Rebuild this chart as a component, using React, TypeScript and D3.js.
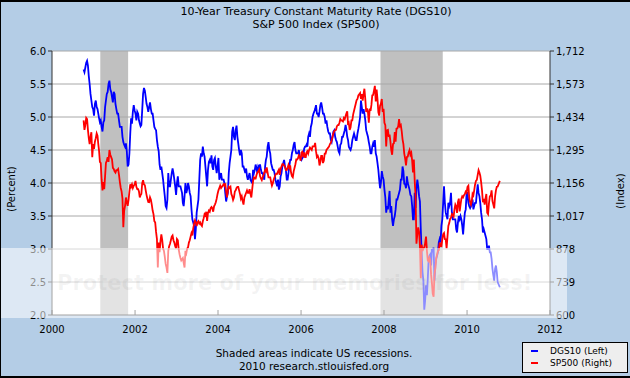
import React from "react";
import * as d3 from "d3";

const W = 630;
const H = 378;

const titleLines = ["10-Year Treasury Constant Maturity Rate (DGS10)", "S&P 500 Index (SP500)"];
const footerLines = ["Shaded areas indicate US recessions.", "2010 research.stlouisfed.org"];
const watermarkText = "Protect more of your memories for less!";
const leftTicks = [2.0, 2.5, 3.0, 3.5, 4.0, 4.5, 5.0, 5.5, 6.0];
const rightTicks = [600, 739, 878, 1017, 1156, 1295, 1434, 1573, 1712];
const rightTickLabels = ["600", "739", "878", "1,017", "1,156", "1,295", "1,434", "1,573", "1,712"];
const yearTicks = [2000, 2002, 2004, 2006, 2008, 2010, 2012];
const recessions: [string, string][] = [
  ["2001-03-01", "2001-11-01"],
  ["2007-12-01", "2009-06-01"],
];
const legendItems = [
  { label: "DGS10 (Left)", color: "#0000ff" },
  { label: "SP500 (Right)", color: "#ff0000" },
];

const dgs10Monthly: [string, number[]][] = [
  ["2000-10", [5.72, 5.68, 5.75, 5.82]],
  ["2000-11", [5.85, 5.78, 5.62, 5.50]],
  ["2000-12", [5.35, 5.25, 5.15, 5.12]],
  ["2001-01", [5.02, 5.20, 5.25, 5.15]],
  ["2001-02", [5.12, 5.05, 4.98, 4.92]],
  ["2001-03", [4.95, 4.85, 4.78, 4.92]],
  ["2001-04", [4.95, 5.15, 5.25, 5.35]],
  ["2001-05", [5.38, 5.50, 5.55, 5.42]],
  ["2001-06", [5.38, 5.30, 5.22, 5.38]],
  ["2001-07", [5.35, 5.20, 5.12, 5.05]],
  ["2001-08", [5.05, 4.95, 4.85, 4.85]],
  ["2001-09", [4.85, 4.70, 4.62, 4.58]],
  ["2001-10", [4.55, 4.60, 4.48, 4.25]],
  ["2001-11", [4.28, 4.45, 4.75, 4.98]],
  ["2001-12", [4.90, 5.08, 5.18, 5.10]],
  ["2002-01", [5.05, 4.95, 5.08, 5.05]],
  ["2002-02", [4.95, 4.90, 4.86, 4.88]],
  ["2002-03", [5.10, 5.35, 5.44, 5.40]],
  ["2002-04", [5.30, 5.20, 5.15, 5.08]],
  ["2002-05", [5.15, 5.22, 5.12, 5.05]],
  ["2002-06", [5.05, 4.95, 4.85, 4.82]],
  ["2002-07", [4.80, 4.65, 4.55, 4.48]],
  ["2002-08", [4.28, 4.20, 4.25, 4.15]],
  ["2002-09", [4.05, 3.92, 3.80, 3.65]],
  ["2002-10", [3.62, 3.75, 4.15, 3.95]],
  ["2002-11", [3.95, 4.05, 4.15, 4.22]],
  ["2002-12", [4.15, 4.05, 3.95, 3.82]],
  ["2003-01", [4.00, 4.10, 3.95, 3.95]],
  ["2003-02", [3.95, 3.90, 3.85, 3.70]],
  ["2003-03", [3.65, 3.80, 4.00, 3.85]],
  ["2003-04", [3.90, 4.00, 3.95, 3.85]],
  ["2003-05", [3.80, 3.60, 3.45, 3.40]],
  ["2003-06", [3.35, 3.15, 3.30, 3.55]],
  ["2003-07", [3.65, 3.75, 4.05, 4.35]],
  ["2003-08", [4.45, 4.40, 4.55, 4.45]],
  ["2003-09", [4.40, 4.25, 4.10, 3.95]],
  ["2003-10", [4.20, 4.32, 4.35, 4.30]],
  ["2003-11", [4.42, 4.25, 4.20, 4.35]],
  ["2003-12", [4.38, 4.25, 4.15, 4.25]],
  ["2004-01", [4.38, 4.05, 4.10, 4.15]],
  ["2004-02", [4.05, 4.05, 4.05, 4.00]],
  ["2004-03", [3.85, 3.72, 3.80, 3.85]],
  ["2004-04", [4.15, 4.30, 4.40, 4.50]],
  ["2004-05", [4.78, 4.85, 4.70, 4.65]],
  ["2004-06", [4.80, 4.87, 4.70, 4.60]],
  ["2004-07", [4.50, 4.42, 4.50, 4.45]],
  ["2004-08", [4.25, 4.25, 4.20, 4.15]],
  ["2004-09", [4.22, 4.10, 4.05, 4.10]],
  ["2004-10", [4.15, 4.05, 4.02, 4.00]],
  ["2004-11", [4.20, 4.15, 4.20, 4.28]],
  ["2004-12", [4.22, 4.15, 4.25, 4.22]],
  ["2005-01", [4.28, 4.20, 4.15, 4.15]],
  ["2005-02", [4.10, 4.05, 4.25, 4.35]],
  ["2005-03", [4.40, 4.55, 4.62, 4.50]],
  ["2005-04", [4.45, 4.30, 4.25, 4.20]],
  ["2005-05", [4.20, 4.15, 4.05, 4.00]],
  ["2005-06", [3.95, 4.05, 3.90, 3.95]],
  ["2005-07", [4.10, 4.15, 4.25, 4.30]],
  ["2005-08", [4.35, 4.25, 4.20, 4.05]],
  ["2005-09", [4.05, 4.15, 4.25, 4.35]],
  ["2005-10", [4.35, 4.45, 4.50, 4.58]],
  ["2005-11", [4.62, 4.50, 4.45, 4.45]],
  ["2005-12", [4.45, 4.50, 4.40, 4.38]],
  ["2006-01", [4.35, 4.38, 4.40, 4.52]],
  ["2006-02", [4.55, 4.55, 4.58, 4.55]],
  ["2006-03", [4.70, 4.75, 4.70, 4.85]],
  ["2006-04", [4.90, 5.00, 5.05, 5.08]],
  ["2006-05", [5.12, 5.18, 5.05, 5.05]],
  ["2006-06", [5.00, 5.08, 5.18, 5.22]],
  ["2006-07", [5.15, 5.05, 5.05, 5.00]],
  ["2006-08", [4.90, 4.95, 4.85, 4.78]],
  ["2006-09", [4.75, 4.75, 4.65, 4.62]],
  ["2006-10", [4.70, 4.78, 4.80, 4.70]],
  ["2006-11", [4.65, 4.62, 4.55, 4.48]],
  ["2006-12", [4.45, 4.58, 4.60, 4.70]],
  ["2007-01", [4.70, 4.75, 4.80, 4.88]],
  ["2007-02", [4.80, 4.70, 4.65, 4.55]],
  ["2007-03", [4.52, 4.50, 4.55, 4.65]],
  ["2007-04", [4.70, 4.75, 4.70, 4.65]],
  ["2007-05", [4.65, 4.75, 4.82, 4.90]],
  ["2007-06", [5.00, 5.25, 5.15, 5.05]],
  ["2007-07", [5.12, 5.05, 4.95, 4.80]],
  ["2007-08", [4.75, 4.70, 4.62, 4.55]],
  ["2007-09", [4.45, 4.45, 4.55, 4.60]],
  ["2007-10", [4.55, 4.65, 4.45, 4.40]],
  ["2007-11", [4.30, 4.20, 4.05, 3.92]],
  ["2007-12", [4.00, 4.18, 4.10, 4.05]],
  ["2008-01", [3.90, 3.78, 3.55, 3.65]],
  ["2008-02", [3.60, 3.75, 3.88, 3.55]],
  ["2008-03", [3.65, 3.45, 3.35, 3.45]],
  ["2008-04", [3.50, 3.60, 3.75, 3.75]],
  ["2008-05", [3.80, 3.85, 3.90, 4.05]],
  ["2008-06", [4.05, 4.25, 4.18, 3.99]],
  ["2008-07", [3.98, 3.92, 4.10, 4.00]],
  ["2008-08", [3.95, 3.90, 3.82, 3.80]],
  ["2008-09", [3.65, 3.45, 3.45, 3.85]],
  ["2008-10", [3.62, 3.92, 4.05, 3.95]],
  ["2008-11", [3.80, 3.72, 3.30, 2.95]],
  ["2008-12", [2.65, 2.52, 2.08, 2.22]],
  ["2009-01", [2.45, 2.30, 2.55, 2.85]],
  ["2009-02", [2.90, 2.92, 2.75, 3.00]],
  ["2009-03", [2.95, 3.02, 2.52, 2.75]],
  ["2009-04", [2.85, 2.90, 2.95, 3.10]],
  ["2009-05", [3.15, 3.10, 3.35, 3.45]],
  ["2009-06", [3.70, 3.95, 3.70, 3.55]],
  ["2009-07", [3.50, 3.45, 3.70, 3.65]],
  ["2009-08", [3.70, 3.85, 3.55, 3.45]],
  ["2009-09", [3.45, 3.45, 3.45, 3.30]],
  ["2009-10", [3.25, 3.40, 3.50, 3.45]],
  ["2009-11", [3.50, 3.45, 3.35, 3.22]],
  ["2009-12", [3.40, 3.55, 3.60, 3.85]],
  ["2010-01", [3.85, 3.70, 3.65, 3.62]],
  ["2010-02", [3.65, 3.70, 3.75, 3.60]],
  ["2010-03", [3.65, 3.70, 3.70, 3.85]],
  ["2010-04", [3.98, 3.85, 3.80, 3.70]],
  ["2010-05", [3.55, 3.45, 3.25, 3.30]],
  ["2010-06", [3.25, 3.20, 3.15, 3.00]],
  ["2010-07", [3.00, 3.05, 2.95, 2.95]],
  ["2010-08", [2.85, 2.70, 2.60, 2.52]],
  ["2010-09", [2.70, 2.75, 2.65, 2.50]],
  ["2010-10", [2.42]],
];

const sp500Monthly: [string, number[]][] = [
  ["2000-10", [1420, 1380, 1400, 1430]],
  ["2000-11", [1425, 1380, 1345, 1320]],
  ["2000-12", [1350, 1370, 1265, 1320]],
  ["2001-01", [1300, 1330, 1345, 1365]],
  ["2001-02", [1355, 1320, 1290, 1245]],
  ["2001-03", [1240, 1170, 1125, 1160]],
  ["2001-04", [1130, 1185, 1240, 1250]],
  ["2001-05", [1265, 1245, 1295, 1275]],
  ["2001-06", [1265, 1255, 1220, 1215]],
  ["2001-07", [1205, 1200, 1210, 1210]],
  ["2001-08", [1215, 1190, 1160, 1135]],
  ["2001-09", [1120, 1090, 970, 1040]],
  ["2001-10", [1060, 1095, 1075, 1060]],
  ["2001-11", [1085, 1120, 1150, 1140]],
  ["2001-12", [1150, 1135, 1145, 1150]],
  ["2002-01", [1165, 1140, 1130, 1130]],
  ["2002-02", [1120, 1095, 1105, 1110]],
  ["2002-03", [1155, 1168, 1150, 1147]],
  ["2002-04", [1125, 1105, 1090, 1076]],
  ["2002-05", [1075, 1095, 1085, 1065]],
  ["2002-06", [1040, 1025, 995, 990]],
  ["2002-07", [950, 920, 800, 905]],
  ["2002-08", [865, 910, 940, 915]],
  ["2002-09", [880, 870, 845, 815]],
  ["2002-10", [800, 777, 870, 890]],
  ["2002-11", [900, 915, 930, 935]],
  ["2002-12", [915, 905, 890, 880]],
  ["2003-01", [920, 915, 875, 855]],
  ["2003-02", [840, 830, 835, 840]],
  ["2003-03", [820, 800, 870, 860]],
  ["2003-04", [880, 885, 905, 915]],
  ["2003-05", [930, 945, 935, 965]],
  ["2003-06", [985, 998, 990, 975]],
  ["2003-07", [990, 995, 985, 990]],
  ["2003-08", [980, 975, 995, 1008]],
  ["2003-09", [1025, 1020, 1035, 996]],
  ["2003-10", [1030, 1040, 1035, 1050]],
  ["2003-11", [1055, 1050, 1035, 1058]],
  ["2003-12", [1065, 1075, 1090, 1110]],
  ["2004-01", [1125, 1135, 1145, 1135]],
  ["2004-02", [1140, 1145, 1150, 1145]],
  ["2004-03", [1155, 1120, 1095, 1125]],
  ["2004-04", [1140, 1135, 1140, 1110]],
  ["2004-05", [1100, 1085, 1095, 1120]],
  ["2004-06", [1125, 1135, 1140, 1140]],
  ["2004-07", [1125, 1110, 1090, 1100]],
  ["2004-08", [1080, 1065, 1095, 1105]],
  ["2004-09", [1115, 1125, 1115, 1115]],
  ["2004-10", [1130, 1110, 1095, 1130]],
  ["2004-11", [1165, 1180, 1175, 1175]],
  ["2004-12", [1190, 1200, 1205, 1212]],
  ["2005-01", [1185, 1175, 1168, 1180]],
  ["2005-02", [1190, 1200, 1210, 1205]],
  ["2005-03", [1222, 1200, 1180, 1180]],
  ["2005-04", [1180, 1160, 1145, 1155]],
  ["2005-05", [1170, 1180, 1190, 1195]],
  ["2005-06", [1195, 1205, 1212, 1190]],
  ["2005-07", [1215, 1225, 1235, 1235]],
  ["2005-08", [1230, 1225, 1210, 1210]],
  ["2005-09", [1220, 1232, 1220, 1230]],
  ["2005-10", [1200, 1185, 1180, 1205]],
  ["2005-11", [1220, 1235, 1255, 1255]],
  ["2005-12", [1260, 1272, 1265, 1250]],
  ["2006-01", [1285, 1288, 1265, 1285]],
  ["2006-02", [1265, 1265, 1285, 1290]],
  ["2006-03", [1280, 1295, 1305, 1300]],
  ["2006-04", [1295, 1310, 1310, 1310]],
  ["2006-05", [1325, 1290, 1265, 1270]],
  ["2006-06", [1260, 1230, 1245, 1270]],
  ["2006-07", [1270, 1240, 1250, 1280]],
  ["2006-08", [1280, 1295, 1300, 1305]],
  ["2006-09", [1310, 1320, 1325, 1336]],
  ["2006-10", [1350, 1365, 1375, 1378]],
  ["2006-11", [1380, 1395, 1400, 1400]],
  ["2006-12", [1410, 1425, 1420, 1418]],
  ["2007-01", [1415, 1430, 1425, 1438]],
  ["2007-02", [1450, 1458, 1400, 1407]],
  ["2007-03", [1380, 1390, 1420, 1420]],
  ["2007-04", [1445, 1460, 1475, 1490]],
  ["2007-05", [1505, 1510, 1525, 1530]],
  ["2007-06", [1535, 1510, 1530, 1503]],
  ["2007-07", [1530, 1553, 1510, 1455]],
  ["2007-08", [1470, 1455, 1410, 1470]],
  ["2007-09", [1460, 1485, 1525, 1527]],
  ["2007-10", [1545, 1565, 1500, 1550]],
  ["2007-11", [1510, 1455, 1440, 1481]],
  ["2007-12", [1490, 1510, 1455, 1468]],
  ["2008-01", [1410, 1400, 1310, 1378]],
  ["2008-02", [1380, 1350, 1360, 1331]],
  ["2008-03", [1295, 1275, 1320, 1323]],
  ["2008-04", [1370, 1330, 1385, 1386]],
  ["2008-05", [1395, 1425, 1395, 1400]],
  ["2008-06", [1375, 1340, 1320, 1280]],
  ["2008-07", [1260, 1230, 1265, 1267]],
  ["2008-08", [1285, 1295, 1275, 1283]],
  ["2008-09", [1250, 1200, 1255, 1165]],
  ["2008-10", [1100, 900, 940, 969]],
  ["2008-11", [950, 890, 755, 896]],
  ["2008-12", [870, 880, 885, 903]],
  ["2009-01", [930, 870, 830, 826]],
  ["2009-02", [840, 830, 770, 735]],
  ["2009-03", [690, 677, 770, 798]],
  ["2009-04", [840, 855, 870, 873]],
  ["2009-05", [905, 890, 890, 919]],
  ["2009-06", [940, 945, 920, 919]],
  ["2009-07", [880, 930, 975, 987]],
  ["2009-08", [1005, 1010, 1025, 1021]],
  ["2009-09", [1015, 1045, 1065, 1057]],
  ["2009-10", [1030, 1075, 1090, 1036]],
  ["2009-11", [1065, 1090, 1100, 1096]],
  ["2009-12", [1105, 1110, 1120, 1115]],
  ["2010-01", [1140, 1145, 1095, 1074]],
  ["2010-02", [1065, 1080, 1110, 1104]],
  ["2010-03", [1125, 1150, 1165, 1169]],
  ["2010-04", [1190, 1210, 1200, 1187]],
  ["2010-05", [1160, 1125, 1075, 1089]],
  ["2010-06", [1065, 1090, 1110, 1031]],
  ["2010-07", [1025, 1070, 1100, 1102]],
  ["2010-08", [1125, 1080, 1065, 1049]],
  ["2010-09", [1100, 1125, 1140, 1141]],
  ["2010-10", [1165]],
];

const parseMonth = d3.timeParse("%Y-%m");
const parseDay = d3.timeParse("%Y-%m-%d");

function expand(rows: [string, number[]][]) {
  const out: { date: Date; value: number }[] = [];
  rows.forEach(([m, vals]) => {
    const start = parseMonth(m) as Date;
    const end = d3.timeMonth.offset(start, 1);
    const span = end.getTime() - start.getTime();
    vals.forEach((v, i) => {
      out.push({ date: new Date(start.getTime() + ((i + 0.5) / vals.length) * span), value: v });
    });
  });
  return out;
}

const FONT = "'DejaVu Sans', Verdana, sans-serif";

export default function App() {
  const left = 52, right = 550, top = 51, bottom = 315;
  const x = d3.scaleTime().domain([new Date(2000, 0, 1), new Date(2012, 0, 1)]).range([left, right]);
  const yL = d3.scaleLinear().domain([2, 6]).range([bottom, top]);
  const yR = d3.scaleLinear().domain([600, 1712]).range([bottom, top]);

  const dgs = expand(dgs10Monthly);
  const sp = expand(sp500Monthly);
  const lineL = d3.line<{ date: Date; value: number }>().x((d) => x(d.date)).y((d) => yL(d.value));
  const lineR = d3.line<{ date: Date; value: number }>().x((d) => x(d.date)).y((d) => yR(d.value));

  const bg = "#b4cde6";
  const axisColor = "#333333";
  const gridColor = "#a8a8a8";

  return (
    <svg width={W} height={H} style={{ position: "absolute", left: 0, top: 0, fontFamily: FONT }}>
      <rect x={0} y={0} width={W} height={H} fill={bg} />
      <rect x={left} y={top} width={right - left} height={bottom - top} fill="#ffffff" />
      {recessions.map(([s, e], i) => (
        <rect key={i} x={x(parseDay(s) as Date)} y={top} width={x(parseDay(e) as Date) - x(parseDay(s) as Date)} height={bottom - top} fill="#c0c0c0" />
      ))}
      {leftTicks.slice(1).map((t) => (
        <line key={t} x1={left} x2={right} y1={yL(t)} y2={yL(t)} stroke={gridColor} strokeWidth={1} />
      ))}
      <path d={lineL(dgs) || ""} fill="none" stroke="#0000ff" strokeWidth={1.8} strokeLinejoin="miter" />
      <path d={lineR(sp) || ""} fill="none" stroke="#ff0000" strokeWidth={1.8} strokeLinejoin="miter" />
      <line x1={left} x2={left} y1={top} y2={bottom} stroke={axisColor} />
      <line x1={right} x2={right} y1={top} y2={bottom} stroke={axisColor} />
      <line x1={left} x2={right} y1={bottom} y2={bottom} stroke={axisColor} />
      {leftTicks.map((t) => (
        <g key={t}>
          <line x1={left - 4} x2={left} y1={yL(t)} y2={yL(t)} stroke={axisColor} />
          <text x={left - 6} y={yL(t)} dy="0.35em" textAnchor="end" fontSize={10} fill="#000">{t.toFixed(1)}</text>
        </g>
      ))}
      {rightTicks.map((t, i) => (
        <g key={t}>
          <line x1={right} x2={right + 4} y1={yR(t)} y2={yR(t)} stroke={axisColor} />
          <text x={right + 6} y={yR(t)} dy="0.35em" textAnchor="start" fontSize={10} fill="#000">{rightTickLabels[i]}</text>
        </g>
      ))}
      {yearTicks.map((yr) => (
        <g key={yr}>
          <line x1={x(new Date(yr, 0, 1))} x2={x(new Date(yr, 0, 1))} y1={bottom} y2={bottom - 5} stroke={axisColor} />
          <text x={x(new Date(yr, 0, 1))} y={333} textAnchor="middle" fontSize={10} fill="#000">{yr}</text>
        </g>
      ))}
      <text transform={`translate(15,189) rotate(-90)`} textAnchor="middle" fontSize={10} fill="#000">(Percent)</text>
      <text transform={`translate(624,191) rotate(-90)`} textAnchor="middle" fontSize={10} fill="#000">(Index)</text>
      {titleLines.map((t, i) => (
        <text key={i} x={316} y={15 + i * 13} textAnchor="middle" fontSize={11} fill="#000">{t}</text>
      ))}
      {footerLines.map((t, i) => (
        <text key={i} x={314} y={357 + i * 13} textAnchor="middle" fontSize={10.5} fill="#000">{t}</text>
      ))}
      <rect x={0} y={248} width={567} height={70} fill="#ffffff" fillOpacity={0.55} />
      <text x={57} y={290} fontSize={21} fontWeight="bold" fill="#808080" fillOpacity={0.09}>{watermarkText}</text>
      <rect x={522.5} y={342.5} width={105} height={30} fill="#eeeeee" stroke="#000" />
      {legendItems.map((it, i) => (
        <g key={it.label}>
          <line x1={531} x2={538} y1={351 + i * 12} y2={351 + i * 12} stroke={it.color} strokeWidth={2} />
          <text x={550} y={351 + i * 12} dy="0.35em" fontSize={9} fill="#000">{it.label}</text>
        </g>
      ))}
      <line x1={0} x2={W} y1={1} y2={1} stroke="#000" strokeWidth={2} />
      <line x1={0.5} x2={0.5} y1={0} y2={H} stroke="#000" strokeWidth={1} />
      <line x1={0} x2={W} y1={H - 1} y2={H - 1} stroke="#000" strokeWidth={2} />
    </svg>
  );
}
